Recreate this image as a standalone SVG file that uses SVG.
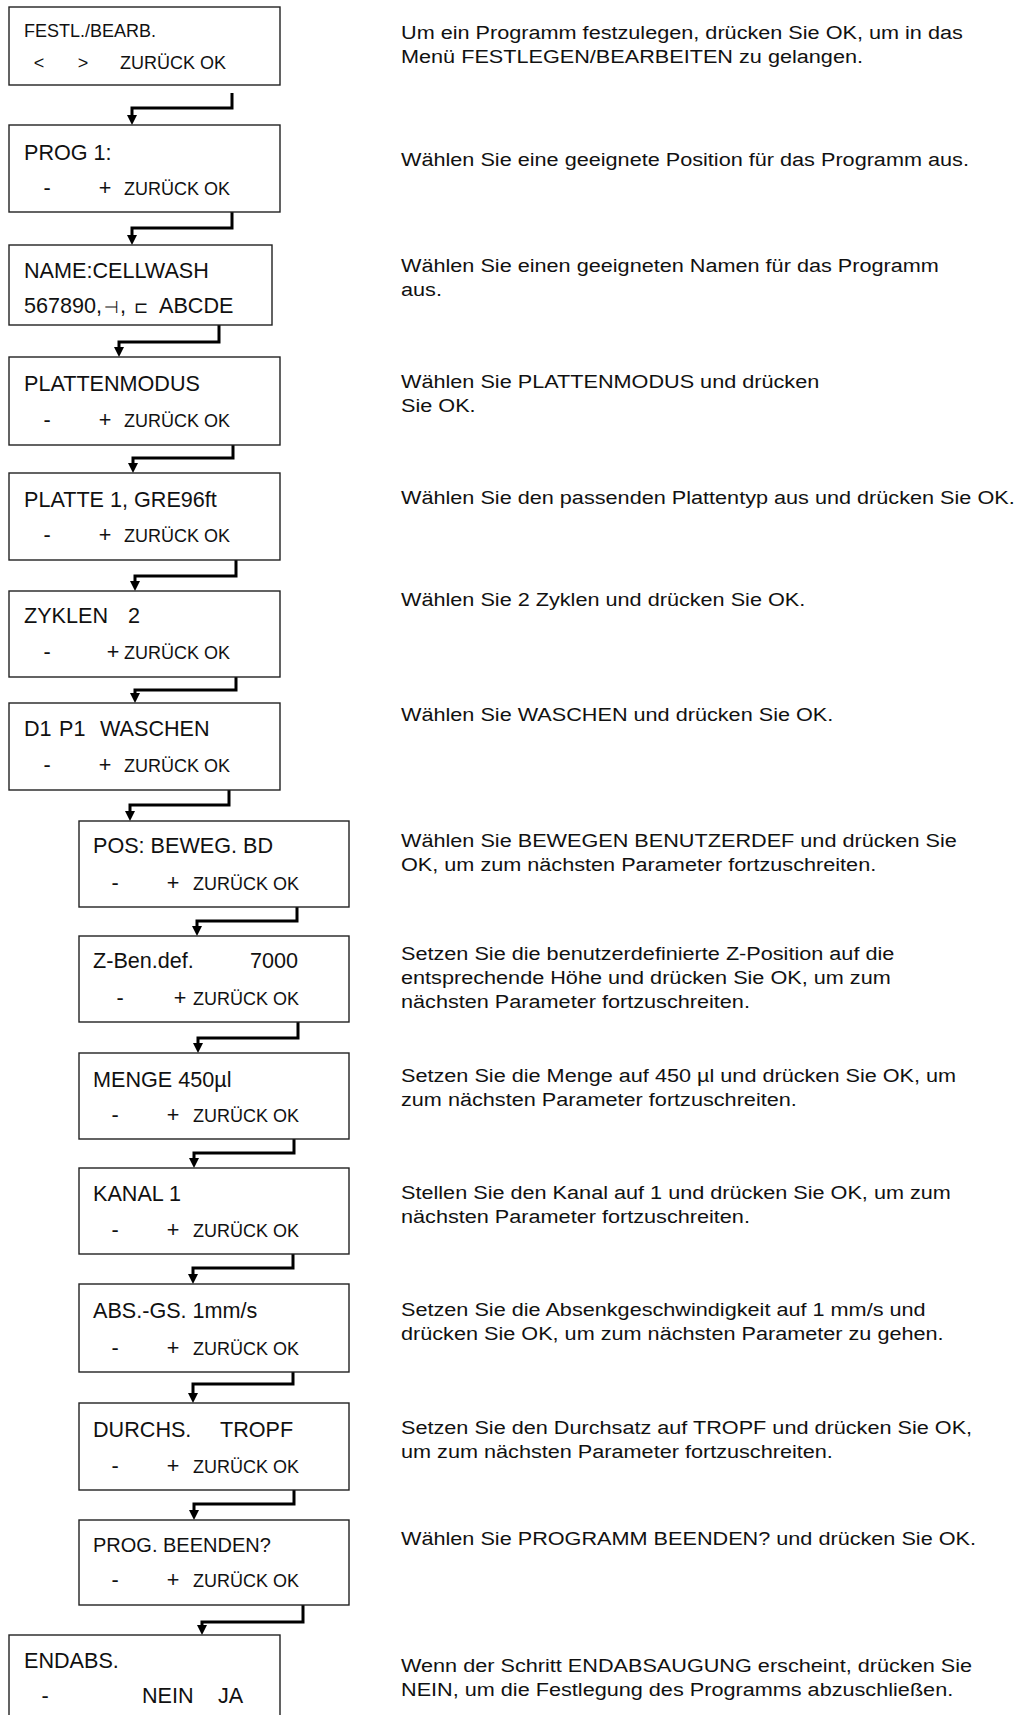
<svg xmlns="http://www.w3.org/2000/svg" width="1030" height="1715" viewBox="0 0 1030 1715">
<style>
.box{fill:#fff;stroke:#222;stroke-width:1.4}
text{font-family:"Liberation Sans",Arial,Helvetica,sans-serif;fill:#111}
.t{font-size:21.6px}
.s{font-size:18px}
.d{font-size:19px}
.sym{font-family:"DejaVu Sans",sans-serif;font-size:17px}
.c{fill:none;stroke:#000;stroke-width:3;marker-end:url(#ah)}
</style>
<defs>
<marker id="ah" viewBox="0 0 10 10" refX="1" refY="5" markerWidth="10" markerHeight="11" markerUnits="userSpaceOnUse" orient="auto">
<path d="M0,0 L10,5 L0,10 z" fill="#000"/>
</marker>
</defs>
<rect width="1030" height="1715" fill="#fff"/>

<g id="connectors">
<path class="c" d="M232,93 V108 H132 V116"/>
<path class="c" d="M232,208 V228 H132 V236"/>
<path class="c" d="M219,325 V342 H119 V348"/>
<path class="c" d="M233,445 V458 H133 V464"/>
<path class="c" d="M236,560 V576 H135 V582"/>
<path class="c" d="M236,677 V690 H135 V694"/>
<path class="c" d="M229,790 V805 H130 V812"/>
<path class="c" d="M297,907 V921 H197 V927"/>
<path class="c" d="M298,1022 V1038 H198 V1044"/>
<path class="c" d="M294,1139 V1153 H194 V1159"/>
<path class="c" d="M293,1254 V1268 H193 V1275"/>
<path class="c" d="M293,1372 V1384 H193 V1394"/>
<path class="c" d="M294,1490 V1504 H194 V1511"/>
<path class="c" d="M303,1605 V1622 H202 V1626"/>
</g>

<g id="n1"><rect class="box" x="9" y="7" width="271" height="78"/>
<text class="s" x="24" y="37">FESTL./BEARB.</text>
<text class="s" x="39" y="69" text-anchor="middle">&lt;</text>
<text class="s" x="83" y="69" text-anchor="middle">&gt;</text>
<text class="s" x="120" y="69">ZURÜCK OK</text></g>

<g id="n2"><rect class="box" x="9" y="125" width="271" height="87"/>
<text class="t" x="24" y="160">PROG 1:</text>
<text class="t" x="47" y="195" text-anchor="middle">-</text>
<text class="t" x="105" y="195" text-anchor="middle">+</text>
<text class="s" x="124" y="195">ZURÜCK OK</text></g>

<g id="n3"><rect class="box" x="9" y="245" width="263" height="80"/>
<text class="t" x="24" y="278">NAME:CELLWASH</text>
<text class="t" x="24" y="313">567890,<tspan class="sym" x="104">⊣</tspan><tspan x="120">,</tspan><tspan class="sym" x="134">⊏</tspan><tspan x="159">ABCDE</tspan></text></g>

<g id="n4"><rect class="box" x="9" y="357" width="271" height="88"/>
<text class="t" x="24" y="391">PLATTENMODUS</text>
<text class="t" x="47" y="427" text-anchor="middle">-</text>
<text class="t" x="105" y="427" text-anchor="middle">+</text>
<text class="s" x="124" y="427">ZURÜCK OK</text></g>

<g id="n5"><rect class="box" x="9" y="473" width="271" height="87"/>
<text class="t" x="24" y="507">PLATTE 1, GRE96ft</text>
<text class="t" x="47" y="542" text-anchor="middle">-</text>
<text class="t" x="105" y="542" text-anchor="middle">+</text>
<text class="s" x="124" y="542">ZURÜCK OK</text></g>

<g id="n6"><rect class="box" x="9" y="591" width="271" height="86"/>
<text class="t" x="24" y="623">ZYKLEN<tspan x="128">2</tspan></text>
<text class="t" x="47" y="659" text-anchor="middle">-</text>
<text class="t" x="113" y="659" text-anchor="middle">+</text>
<text class="s" x="124" y="659">ZURÜCK OK</text></g>

<g id="n7"><rect class="box" x="9" y="703" width="271" height="87"/>
<text class="t" x="24" y="736">D1<tspan x="59">P1</tspan><tspan x="100">WASCHEN</tspan></text>
<text class="t" x="47" y="772" text-anchor="middle">-</text>
<text class="t" x="105" y="772" text-anchor="middle">+</text>
<text class="s" x="124" y="772">ZURÜCK OK</text></g>

<g id="n8"><rect class="box" x="79" y="821" width="270" height="86"/>
<text class="t" x="93" y="853">POS: BEWEG. BD</text>
<text class="t" x="115" y="890" text-anchor="middle">-</text>
<text class="t" x="173" y="890" text-anchor="middle">+</text>
<text class="s" x="193" y="890">ZURÜCK OK</text></g>

<g id="n9"><rect class="box" x="79" y="936" width="270" height="86"/>
<text class="t" x="93" y="968">Z-Ben.def.<tspan x="250">7000</tspan></text>
<text class="t" x="120" y="1005" text-anchor="middle">-</text>
<text class="t" x="180" y="1005" text-anchor="middle">+</text>
<text class="s" x="193" y="1005">ZURÜCK OK</text></g>

<g id="n10"><rect class="box" x="79" y="1053" width="270" height="86"/>
<text class="t" x="93" y="1087">MENGE 450µl</text>
<text class="t" x="115" y="1122" text-anchor="middle">-</text>
<text class="t" x="173" y="1122" text-anchor="middle">+</text>
<text class="s" x="193" y="1122">ZURÜCK OK</text></g>

<g id="n11"><rect class="box" x="79" y="1168" width="270" height="86"/>
<text class="t" x="93" y="1201">KANAL 1</text>
<text class="t" x="115" y="1237" text-anchor="middle">-</text>
<text class="t" x="173" y="1237" text-anchor="middle">+</text>
<text class="s" x="193" y="1237">ZURÜCK OK</text></g>

<g id="n12"><rect class="box" x="79" y="1284" width="270" height="88"/>
<text class="t" x="93" y="1318" font-size="21px">ABS.-GS. 1mm/s</text>
<text class="t" x="115" y="1355" text-anchor="middle">-</text>
<text class="t" x="173" y="1355" text-anchor="middle">+</text>
<text class="s" x="193" y="1355">ZURÜCK OK</text></g>

<g id="n13"><rect class="box" x="79" y="1403" width="270" height="87"/>
<text class="t" x="93" y="1437">DURCHS.<tspan x="220">TROPF</tspan></text>
<text class="t" x="115" y="1473" text-anchor="middle">-</text>
<text class="t" x="173" y="1473" text-anchor="middle">+</text>
<text class="s" x="193" y="1473">ZURÜCK OK</text></g>

<g id="n14"><rect class="box" x="79" y="1520" width="270" height="85"/>
<text class="t" x="93" y="1552" style="font-size:20px">PROG. BEENDEN?</text>
<text class="t" x="115" y="1587" text-anchor="middle">-</text>
<text class="t" x="173" y="1587" text-anchor="middle">+</text>
<text class="s" x="193" y="1587">ZURÜCK OK</text></g>

<g id="n15"><rect class="box" x="9" y="1635" width="271" height="90"/>
<text class="t" x="24" y="1668">ENDABS.</text>
<text class="t" x="45" y="1703" text-anchor="middle">-</text>
<text class="t" x="142" y="1703">NEIN</text>
<text class="t" x="218" y="1703">JA</text></g>

<g id="descriptions" transform="translate(401 0) scale(1.14 1)">
<text class="d" x="0" y="39">Um ein Programm festzulegen, drücken Sie OK, um in das</text>
<text class="d" x="0" y="63">Menü FESTLEGEN/BEARBEITEN zu gelangen.</text>
<text class="d" x="0" y="166">Wählen Sie eine geeignete Position für das Programm aus.</text>
<text class="d" x="0" y="272">Wählen Sie einen geeigneten Namen für das Programm</text>
<text class="d" x="0" y="296">aus.</text>
<text class="d" x="0" y="388">Wählen Sie PLATTENMODUS und drücken</text>
<text class="d" x="0" y="412">Sie OK.</text>
<text class="d" x="0" y="504">Wählen Sie den passenden Plattentyp aus und drücken Sie OK.</text>
<text class="d" x="0" y="606">Wählen Sie 2 Zyklen und drücken Sie OK.</text>
<text class="d" x="0" y="721">Wählen Sie WASCHEN und drücken Sie OK.</text>
<text class="d" x="0" y="847">Wählen Sie BEWEGEN BENUTZERDEF und drücken Sie</text>
<text class="d" x="0" y="871">OK, um zum nächsten Parameter fortzuschreiten.</text>
<text class="d" x="0" y="960">Setzen Sie die benutzerdefinierte Z-Position auf die</text>
<text class="d" x="0" y="984">entsprechende Höhe und drücken Sie OK, um zum</text>
<text class="d" x="0" y="1008">nächsten Parameter fortzuschreiten.</text>
<text class="d" x="0" y="1082">Setzen Sie die Menge auf 450 µl und drücken Sie OK, um</text>
<text class="d" x="0" y="1106">zum nächsten Parameter fortzuschreiten.</text>
<text class="d" x="0" y="1199">Stellen Sie den Kanal auf 1 und drücken Sie OK, um zum</text>
<text class="d" x="0" y="1223">nächsten Parameter fortzuschreiten.</text>
<text class="d" x="0" y="1316">Setzen Sie die Absenkgeschwindigkeit auf 1 mm/s und</text>
<text class="d" x="0" y="1340">drücken Sie OK, um zum nächsten Parameter zu gehen.</text>
<text class="d" x="0" y="1434">Setzen Sie den Durchsatz auf TROPF und drücken Sie OK,</text>
<text class="d" x="0" y="1458">um zum nächsten Parameter fortzuschreiten.</text>
<text class="d" x="0" y="1545">Wählen Sie PROGRAMM BEENDEN? und drücken Sie OK.</text>
<text class="d" x="0" y="1672">Wenn der Schritt ENDABSAUGUNG erscheint, drücken Sie</text>
<text class="d" x="0" y="1696">NEIN, um die Festlegung des Programms abzuschließen.</text>
</g>
</svg>
